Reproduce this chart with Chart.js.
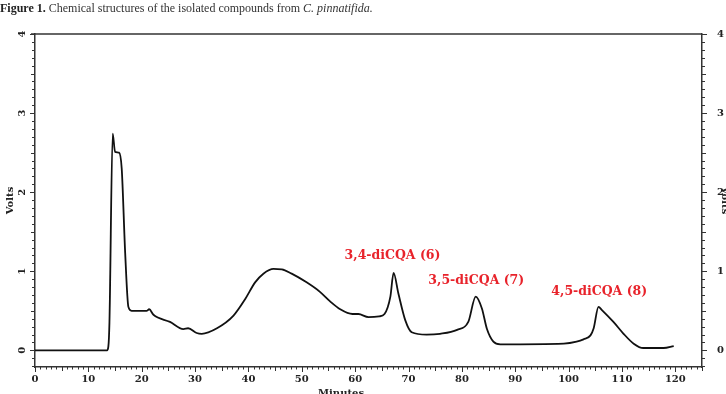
<!DOCTYPE html>
<html>
<head>
<meta charset="utf-8">
<script src="https://cdn.jsdelivr.net/npm/chart.js@4/dist/chart.umd.min.js"></script>
<style>
  body { margin: 0; background: #fff; }
  #wrap { position: relative; width: 726px; height: 394px; overflow: hidden; }
  #caption {
    position: absolute; left: 0; top: 1px;
    font: 12px "Liberation Serif", "Times New Roman", serif;
    color: #333; white-space: nowrap;
  }
  #caption b { color: #222; }
</style>
</head>
<body>
<div id="wrap">
  <div id="caption"><b>Figure 1.</b> Chemical structures of the isolated compounds from <i>C. pinnatifida.</i></div>
  <canvas id="chrom" width="726" height="394"></canvas>
</div>
<script>
/* ============================================
   DATA
   ============================================ */

// retention time (min)
const minutes = [0, 13.5, 13.75, 13.95, 14.56, 15.0, 15.75, 16.25, 16.9, 17.5, 18.1, 20.9, 21.4, 22.2,
  25.3, 27.8, 28.7, 30.3, 31.25, 34.1, 37.2, 39.4, 41.25, 42.8, 44.7, 46.25, 48.1, 50.9, 53.4,
  55.3, 57.2, 59.5, 60.6, 62.5, 64.5, 65.5, 66.6, 67.2, 68.1, 69.4, 70.6, 73.4, 75.9, 79.1,
  81.2, 82.6, 83.75, 84.7, 85.9, 87.2, 99.1, 101.5, 102.8, 104.1, 104.7, 105.6, 106.25, 108.4,
  110.3, 112.2, 114, 117.8, 119.7];

// detector signal (V)
const volts = [0, 0, 0.05, 0.35, 2.74, 2.51, 2.5, 2.3, 1.23, 0.55, 0.5, 0.5, 0.52, 0.45,
  0.36, 0.27, 0.28, 0.22, 0.21, 0.28, 0.44, 0.65, 0.86, 0.97, 1.03, 1.025, 0.97, 0.86, 0.74,
  0.62, 0.52, 0.46, 0.46, 0.42, 0.43, 0.46, 0.68, 0.98, 0.72, 0.38, 0.23, 0.2, 0.21, 0.26,
  0.36, 0.68, 0.53, 0.27, 0.11, 0.076, 0.085, 0.11, 0.14, 0.19, 0.28, 0.55, 0.51, 0.36,
  0.21, 0.085, 0.03, 0.03, 0.055];

// peak annotations
const peakLabels = ['3,4-diCQA (6)', '3,5-diCQA (7)', '4,5-diCQA (8)'];
const peakMinutes = [67.0, 82.7, 105.75];
const peakVolts = [1.2, 0.877, 0.74];

// axis ticks
const xTicks = [0, 10, 20, 30, 40, 50, 60, 70, 80, 90, 100, 110, 120];
const yTicks = [0, 1, 2, 3, 4];

const AXIS_COLOR = '#333';
const TICK_FONT = { family: '"DejaVu Serif", serif', size: 10, weight: 'bold' };

/* ============================================
   PLUGIN: minor ticks, frame, labels
   ============================================ */

const chromPlugin = {
  id: 'chromDecor',
  afterDraw(chart) {
    const ctx = chart.ctx;
    const area = chart.chartArea;
    const xs = chart.scales.x;
    const yl = chart.scales.y;
    const yr = chart.scales.y2;

    ctx.save();
    ctx.strokeStyle = AXIS_COLOR;

    // top frame line
    ctx.lineWidth = 1.5;
    ctx.beginPath();
    ctx.moveTo(area.left - 4, area.top);
    ctx.lineTo(area.right, area.top);
    ctx.stroke();
    ctx.lineWidth = 1;

    // x ticks (every minute)
    for (let m = 0; m <= 125; m++) {
      const px = Math.round(xs.getPixelForValue(m)) + 0.5;
      const len = m % 10 === 0 ? 5 : (m % 5 === 0 ? 4 : 2.5);
      ctx.beginPath();
      ctx.moveTo(px, area.bottom);
      ctx.lineTo(px, area.bottom + len);
      ctx.stroke();
    }

    // y ticks (every 0.1 V), both sides
    for (let i = -2; i <= 40; i++) {
      const py = Math.round(yl.getPixelForValue(i / 10)) + 0.5;
      const len = i % 10 === 0 ? 5 : (i % 5 === 0 ? 4 : 3);
      ctx.beginPath();
      ctx.moveTo(area.left, py);
      ctx.lineTo(area.left - len, py);
      ctx.moveTo(area.right, py);
      ctx.lineTo(area.right + len, py);
      ctx.stroke();
    }

    ctx.fillStyle = '#222';
    ctx.font = 'bold 10px "DejaVu Serif", serif';
    ctx.textAlign = 'center';
    ctx.textBaseline = 'middle';

    // left tick labels, rotated
    yTicks.forEach(v => {
      ctx.save();
      ctx.translate(22, yl.getPixelForValue(v));
      ctx.rotate(-Math.PI / 2);
      ctx.fillText(String(v), 0, 0);
      ctx.restore();
    });

    // x tick labels
    xTicks.forEach(v => {
      ctx.fillText(String(v), xs.getPixelForValue(v), area.bottom + 12);
    });

    // x axis title (cut by the bottom edge, as in the scan)
    ctx.fillText('Minutes', 341, 393);

    // peak labels
    ctx.fillStyle = '#e8232b';
    ctx.font = 'bold 12.5px "DejaVu Serif", serif';
    peakLabels.forEach((txt, i) => {
      ctx.fillText(txt, xs.getPixelForValue(peakMinutes[i]), yr.getPixelForValue(peakVolts[i]));
    });

    ctx.restore();
  }
};

/* ============================================
   CHART
   ============================================ */

const ctx = document.getElementById('chrom').getContext('2d');

new Chart(ctx, {
  type: 'line',
  data: {
    datasets: [{
      data: minutes.map((m, i) => ({ x: m, y: volts[i] })),
      borderColor: '#111',
      borderWidth: 1.8,
      pointRadius: 0,
      fill: false,
      cubicInterpolationMode: 'monotone',
    }]
  },
  options: {
    responsive: false,
    animation: false,
    layout: { padding: { top: 34, left: 0, right: 0, bottom: 0 } },
    plugins: {
      legend: { display: false },
      tooltip: { enabled: false },
    },
    scales: {
      x: {
        type: 'linear',
        min: 0,
        max: 125,
        grid: { display: false },
        border: { display: true, color: AXIS_COLOR, width: 1.5 },
        ticks: { display: false },
        afterFit: scale => { scale.height = 27; },
      },
      y: {
        position: 'left',
        min: -0.21,
        max: 4,
        grid: { display: false },
        border: { display: true, color: AXIS_COLOR, width: 1.5 },
        ticks: { display: false },
        title: {
          display: true,
          text: 'Volts',
          color: '#222',
          font: TICK_FONT,
          padding: { top: 4, bottom: 4 },
        },
        afterFit: scale => { scale.width = 35; },
      },
      y2: {
        position: 'right',
        min: -0.21,
        max: 4,
        grid: { display: false },
        border: { display: true, color: AXIS_COLOR, width: 1.5 },
        afterBuildTicks: scale => { scale.ticks = yTicks.map(v => ({ value: v })); },
        ticks: {
          padding: 7,
          color: '#222',
          font: TICK_FONT,
        },
        title: {
          display: true,
          text: 'Volts',
          color: '#222',
          font: TICK_FONT,
          padding: { top: -5, bottom: -5 },
        },
        afterFit: scale => { scale.width = 24; },
      },
    }
  },
  plugins: [chromPlugin]
});
</script>
</body>
</html>
